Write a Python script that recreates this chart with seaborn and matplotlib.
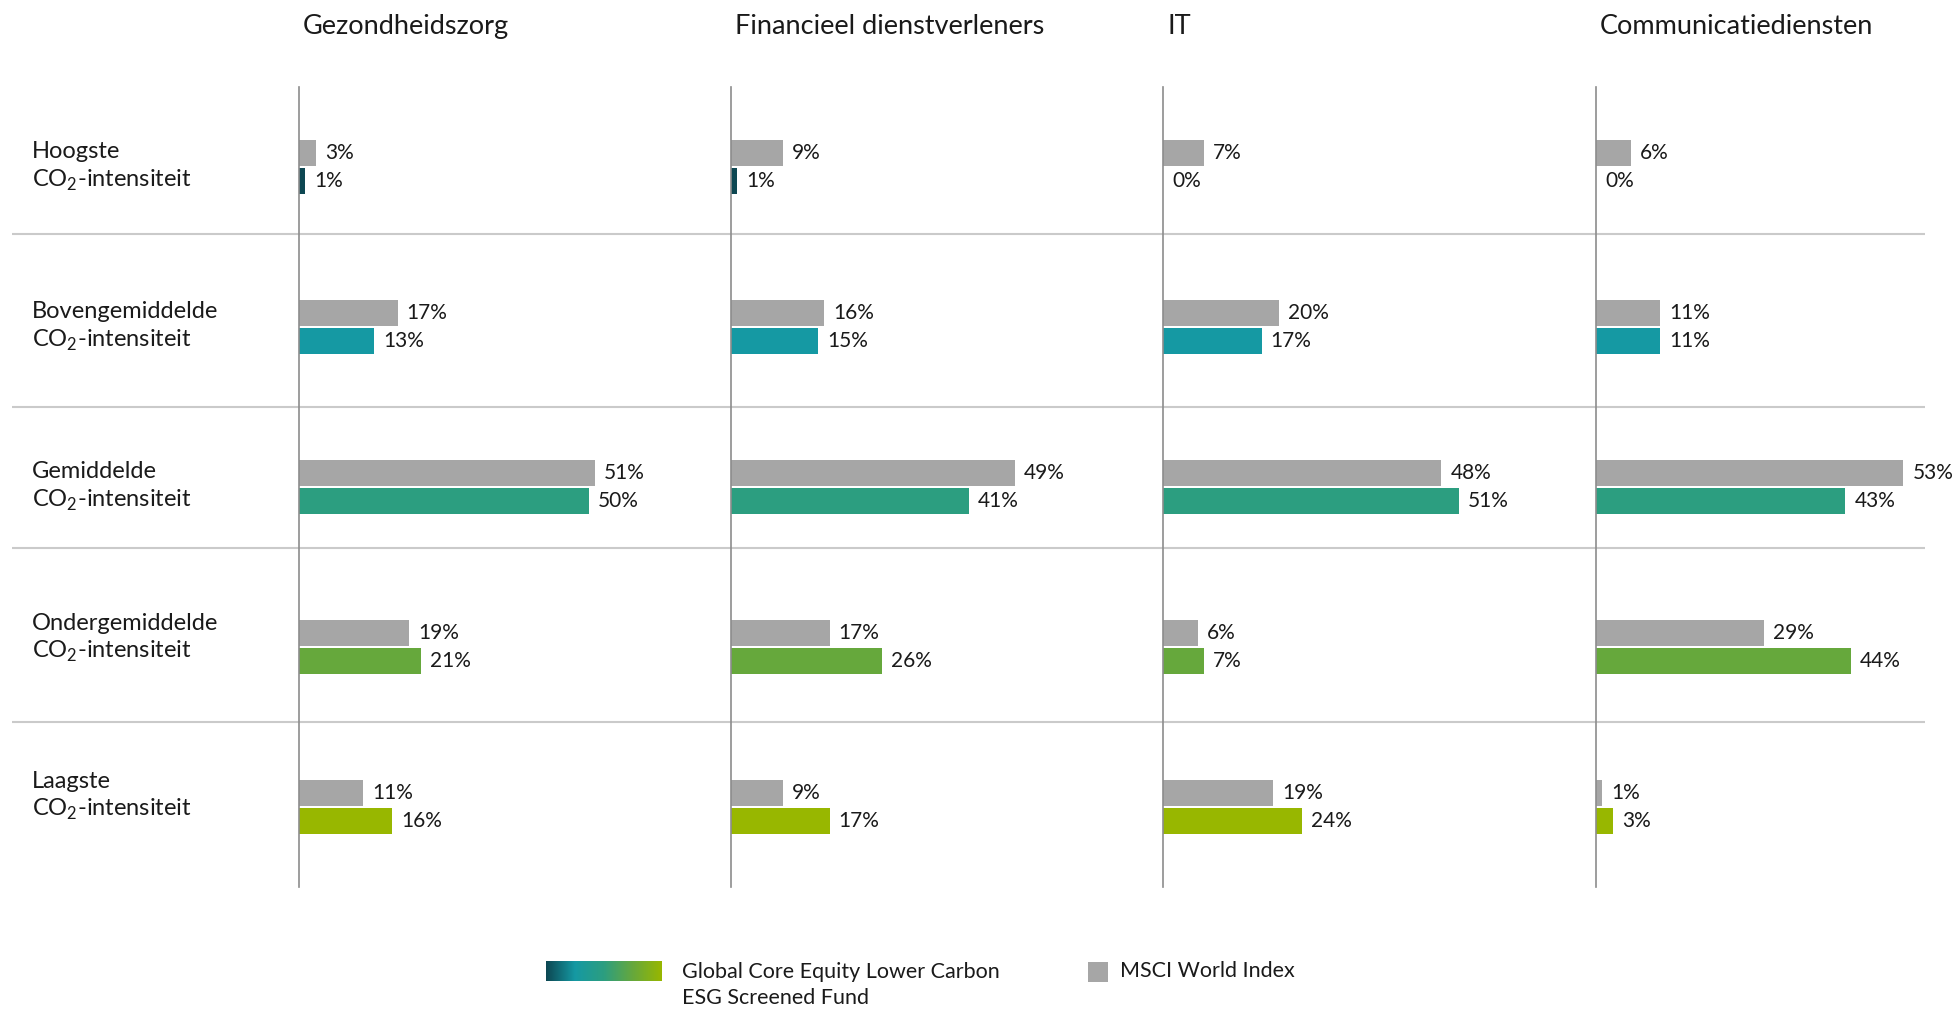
import numpy as np
import pandas as pd
import matplotlib
matplotlib.use("Agg")
import matplotlib.pyplot as plt
from matplotlib.colors import LinearSegmentedColormap
from matplotlib.patches import Rectangle
import seaborn as sns

# data
sectors = ["Gezondheidszorg", "Financieel dienstverleners", "IT", "Communicatiediensten"]
rows = ["Hoogste", "Bovengemiddelde", "Gemiddelde", "Ondergemiddelde", "Laagste"]
row_suffix = "CO$_\\mathregular{2}$-intensiteit"

msci_health = [3, 17, 51, 19, 11]
fund_health = [1, 13, 50, 21, 16]
msci_fin = [9, 16, 49, 17, 9]
fund_fin = [1, 15, 41, 26, 17]
msci_it = [7, 20, 48, 6, 19]
fund_it = [0, 17, 51, 7, 24]
msci_comm = [6, 11, 53, 29, 1]
fund_comm = [0, 11, 43, 44, 3]

msci_values = [msci_health, msci_fin, msci_it, msci_comm]
fund_values = [fund_health, fund_fin, fund_it, fund_comm]

fund_name = "Global Core Equity Lower Carbon\nESG Screened Fund"
msci_name = "MSCI World Index"

GRAY = "#A6A6A6"
FUND_COLORS = ["#0D4752", "#1599A3", "#2C9E80", "#66A83C", "#98B700"]
TEXT = "#1A1A1A"

sns.set_theme(style="white")
plt.rcParams["font.family"] = ["Lato", "DejaVu Sans"]
plt.rcParams["mathtext.fontset"] = "custom"
plt.rcParams["mathtext.rm"] = "Lato"

W, H = 1956, 1009
fig = plt.figure(figsize=(W / 100, H / 100), dpi=100)

# background axes in pixel units for the layout pieces
bg = fig.add_axes([0, 0, 1, 1])
bg.set_axis_off()

axis_x = [299, 731, 1163, 1596]
panel_top, panel_h, panel_w = 87, 800, 400
px_per_pct = 5.8

for x0, sector, m, f in zip(axis_x, sectors, msci_values, fund_values):
    ax = fig.add_axes([x0 / W, (H - panel_top - panel_h) / H, panel_w / W, panel_h / H])
    ax.set_facecolor("none")
    df = pd.DataFrame({
        "rij": rows * 2,
        "pct": m + f,
        "reeks": [msci_name] * len(rows) + ["fund"] * len(rows),
    })
    sns.barplot(data=df, y="rij", x="pct", hue="reeks", order=rows,
                hue_order=[msci_name, "fund"], palette=[GRAY, FUND_COLORS[0]],
                orient="h", width=0.35, gap=0.036, saturation=1, linewidth=0,
                legend=False, ax=ax)
    for patch, c in zip(ax.containers[1], FUND_COLORS):
        patch.set_facecolor(c)
    for cont, vals in zip(ax.containers, [m, f]):
        ax.bar_label(cont, labels=[f"{v}%" for v in vals], padding=6.5,
                     fontsize=15, color=TEXT)
    ax.set_xlim(0, panel_w / px_per_pct)
    ax.set_ylim(len(rows) - 0.5, -0.5)
    ax.set_xticks([])
    ax.set_yticks([])
    ax.set_xlabel("")
    ax.set_ylabel("")
    sns.despine(ax=ax, top=True, right=True, bottom=True, left=False)
    ax.spines["left"].set_color("#8C8C8C")
    ax.spines["left"].set_linewidth(1.2)
    bg.text(x0 + 4, 34, sector, fontsize=19.5, color=TEXT, va="baseline")

# row separators
bg.hlines([234, 407, 548, 722], 12, 1925, color="#CACACA", lw=1.5)

# row labels
label_shift = [6, 6, 6, -3, -5]
for i, (row, sh) in enumerate(zip(rows, label_shift)):
    base = panel_top + 80 + 160 * i - 14.5 + sh
    bg.text(32, base, row, fontsize=17, color=TEXT, va="baseline")
    bg.text(32, base + 28, row_suffix, fontsize=17, color=TEXT, va="baseline")

# legend
cmap = LinearSegmentedColormap.from_list("fund", FUND_COLORS)
bg.imshow(np.linspace(0, 1, 256)[None, :], extent=(546, 662, 981, 961),
          cmap=cmap, aspect="auto", interpolation="bilinear")
line1, line2 = fund_name.split("\n")
bg.text(682, 978, line1, fontsize=15.5, color=TEXT, va="baseline")
bg.text(682, 1004, line2, fontsize=15.5, color=TEXT, va="baseline")
bg.add_patch(Rectangle((1088, 962), 20, 20, color=GRAY, lw=0))
bg.text(1120, 977, msci_name, fontsize=15.5, color=TEXT, va="baseline")

bg.set_xlim(0, W)
bg.set_ylim(H, 0)

fig.savefig("out.png", dpi=100)
